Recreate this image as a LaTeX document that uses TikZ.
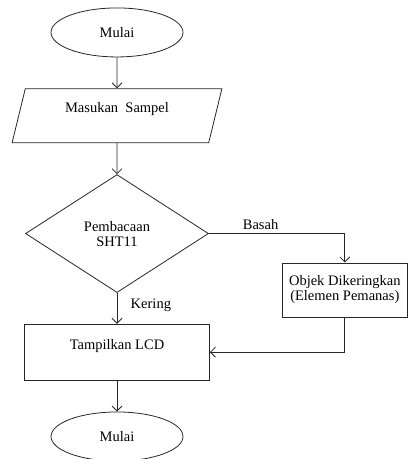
\documentclass[tikz,border=0pt]{standalone}
\usepackage{fontspec}
\setmainfont{Liberation Serif}
\usetikzlibrary{shapes.geometric,% for ellipse, diamond and trapezium
                arrows.meta,% for the open arrow tips
                positioning}

\begin{document}
\begin{tikzpicture}[
  x=1pt, y=1pt,
  every node/.style={font=\rmfamily\fontsize{14.5}{15}\selectfont},
  terminator/.style={
    ellipse,
    minimum width=132pt,
    minimum height=49pt,
    inner sep=0pt,
    line width=0.8pt,
    draw=black!85
  },
  inputbox/.style={
    trapezium,
    trapezium left angle=74, trapezium right angle=106, % a slanted box
    trapezium stretches=true,
    minimum width=210pt, minimum height=54pt,
    inner sep=0pt,
    line width=0.8pt, draw=black!85,
    text height=10pt, text depth=16pt % text sits high in the box
  },
  decision/.style={
    diamond,
    minimum width=183pt, minimum height=118pt,
    inner sep=0pt, align=center,
    line width=0.8pt, draw=black!85
  },
  process/.style={
    rectangle,
    minimum width=185pt, minimum height=56pt,
    inner sep=0pt,
    line width=0.8pt, draw=black!85
  },
  flow/.style={
    draw=black!85, line width=0.8pt,
    -{Straight Barb[length=5pt,width=10pt]}
  }
]
\useasboundingbox (0,0) rectangle (414,-459);

\matrix (chart) [row sep=31pt, anchor=north] at (117,-4) {
  % start
  \node (start) [terminator] {Mulai}; \\
  % input
  \node (input) [inputbox] {Masukan\ \ Sampel}; \\
  % sensor check
  \node (read)  [decision] {Pembacaan\\SHT11}; \\
  % display
  \node (show)  [process, text height=10pt, text depth=15pt] {Tampilkan LCD}; \\
  % end
  \node (stop)  [terminator] {Mulai}; \\
};

\node (dry) [process, minimum width=125pt, minimum height=54pt, align=center,
             below right=29pt and 73pt of read.east]
  {Objek Dikeringkan\\(Elemen Pemanas)};

\draw[flow] (start) -- (input);
\draw[flow] (input) -- (read);
\draw[flow] (read.east) -| node[pos=0.19, above] (wet) {Basah} (dry.north);
\draw[flow] (read.south) -- node[pos=0.4, right=10pt] (dried) {Kering} (show.north);
\draw[flow] (dry.south) |- (show.east);
\draw[flow] (show) -- (stop);
\end{tikzpicture}
\end{document}
